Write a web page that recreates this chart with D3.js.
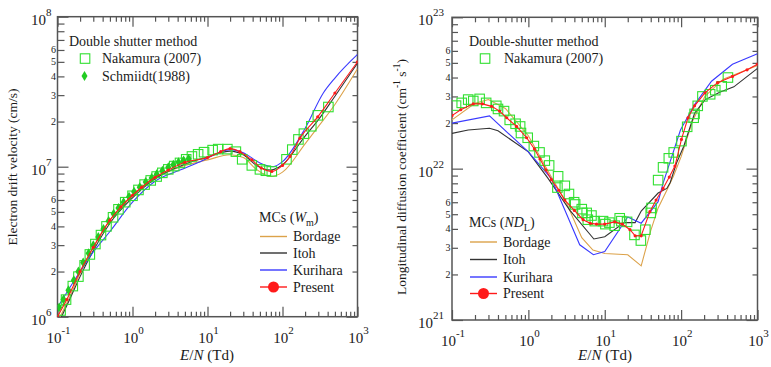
<!DOCTYPE html>
<html><head><meta charset="utf-8">
<script src="https://cdn.jsdelivr.net/npm/d3@7"></script>
<style>body{margin:0;background:#fff}</style>
</head><body>
<svg id="chart" width="771" height="367"></svg>
<script>
// ---------- tick values ----------
const xMajor = [0.1, 1, 10, 100, 1000];
const xMajorExp = ["-1", "0", "1", "2", "3"];
const leftYMajor = [1e6, 1e7, 1e8];
const leftYMajorExp = ["6", "7", "8"];
const rightYMajor = [1e21, 1e22, 1e23];
const rightYMajorExp = ["21", "22", "23"];
const minorMultipliers = [2, 3, 4, 5, 6, 7, 8, 9];
const minorLabelled = [2, 3, 4, 5, 6];

// ---------- left panel: electron drift velocity (cm/s) ----------
const driftBordage = [[0.1,0.92e6],[0.15,1.4e6],[0.2,1.95e6],[0.3,2.9e6],[0.5,4.4e6],[1,6.4e6],[2,8.4e6],[5,1.02e7],[10,1.11e7],[20,1.2e7],[30,1.15e7],[45,9.6e6],[70,8.6e6],[100,9.2e6],[200,1.42e7],[300,1.85e7],[500,2.6e7],[1000,4.5e7]];
const driftItoh = [[0.1,0.88e6],[0.15,1.35e6],[0.2,1.85e6],[0.3,2.75e6],[0.5,4.2e6],[1,6.2e6],[2,8.3e6],[5,1.04e7],[10,1.16e7],[20,1.27e7],[30,1.2e7],[45,1.02e7],[70,9.5e6],[100,1.03e7],[200,1.6e7],[300,2.05e7],[500,2.95e7],[1000,4.9e7]];
const driftKurihara = [[0.1,1.15e6],[0.2,2.0e6],[0.3,2.7e6],[0.5,3.7e6],[1,5.8e6],[2,8.0e6],[4.3,9.5e6],[8,1.08e7],[20,1.3e7],[30,1.24e7],[50,1.06e7],[75,1.0e7],[100,1.08e7],[200,1.8e7],[350,3.1e7],[500,3.9e7],[1000,5.6e7]];
const driftPresent = [[0.1,1.0e6],[0.133,1.3e6],[0.2,2.0e6],[0.3,2.9e6],[0.5,4.4e6],[0.7,5.4e6],[1,6.45e6],[1.33,7.3e6],[2,8.5e6],[3,9.5e6],[5,1.07e7],[10,1.15e7],[15,1.26e7],[20,1.32e7],[27,1.26e7],[39,1.11e7],[52,9.8e6],[72,9.3e6],[100,1.02e7],[126,1.17e7],[171,1.55e7],[295,2.15e7],[500,3.1e7],[1000,5.0e7]];
const driftNakamura = [[0.11,1.1e6],[0.13,1.3e6],[0.16,1.6e6],[0.19,1.85e6],[0.23,2.2e6],[0.27,2.6e6],[0.32,3.05e6],[0.38,3.5e6],[0.45,4.0e6],[0.55,4.6e6],[0.65,5.2e6],[0.8,5.8e6],[1.0,6.4e6],[1.2,7.0e6],[1.45,7.6e6],[1.75,8.1e6],[2.1,8.6e6],[2.5,9.1e6],[3.0,9.6e6],[3.6,1.01e7],[4.3,1.06e7],[5.2,1.12e7],[6.2,1.17e7],[7.5,1.21e7],[9,1.25e7],[11.7,1.29e7],[13.9,1.31e7],[18.4,1.31e7],[23.9,1.26e7],[29,1.12e7],[39,1.02e7],[50,9.6e6],[60,9.4e6],[72,9.3e6],[113,1.12e7],[135,1.3e7],[163,1.52e7],[193,1.66e7],[242,1.86e7],[296,2.2e7],[409,2.5e7]];
const driftSchmidt = [[0.105,1.15e6],[0.12,1.3e6],[0.14,1.5e6],[0.165,1.75e6],[0.19,2.0e6],[0.22,2.3e6],[0.26,2.65e6],[0.3,3.0e6],[0.35,3.4e6],[0.41,3.85e6],[0.48,4.35e6],[0.56,4.85e6],[0.65,5.3e6],[0.76,5.8e6],[0.9,6.3e6],[1.05,6.8e6],[1.25,7.3e6],[1.5,7.9e6],[1.8,8.4e6],[2.1,8.9e6],[2.5,9.4e6],[3.0,9.9e6],[3.5,1.03e7],[4.1,1.07e7],[4.8,1.1e7],[5.6,1.13e7]];

// ---------- right panel: longitudinal diffusion coefficient ----------
const diffBordage = [[0.1,2.1e22],[0.2,2.7e22],[0.3,2.86e22],[0.5,2.5e22],[1,1.65e22],[2,8.8e21],[3.17,5.9e21],[5,3.5e21],[7,2.9e21],[10,2.75e21],[20,2.7e21],[30,2.28e21],[40,3.9e21],[50,5.5e21],[65,7.2e21],[80,9.0e21],[100,1.2e22],[143,2.1e22],[205,3.0e22],[355,3.9e22],[1000,4.8e22]];
const diffItoh = [[0.1,1.71e22],[0.163,1.8e22],[0.31,1.85e22],[0.4,1.78e22],[1.0,1.29e22],[1.8,8.65e21],[3.5,5.3e21],[7.2,3.43e21],[10,3.55e21],[18,4.4e21],[25,4.4e21],[30,5.25e21],[50,6.9e21],[65,7.4e21],[72,8.1e21],[87,1.09e22],[108,1.4e22],[150,2.32e22],[205,2.85e22],[320,3.2e22],[490,3.47e22],[1000,4.6e22]];
const diffKurihara = [[0.1,2.0e22],[0.31,2.23e22],[1.0,1.29e22],[2.0,8.6e21],[4.7,3.14e21],[7.1,2.7e21],[10,2.83e21],[20,4.8e21],[30,4.36e21],[50,6.05e21],[58,8.0e21],[98,1.8e22],[150,2.65e22],[250,3.78e22],[470,4.89e22],[1000,5.75e22]];
const diffPresent = [[0.1,2.24e22],[0.13,2.45e22],[0.19,2.68e22],[0.25,2.68e22],[0.33,2.58e22],[0.42,2.4e22],[0.52,2.17e22],[0.7,1.9e22],[0.95,1.6e22],[1.2,1.35e22],[1.42,1.16e22],[1.7,9.8e21],[2.0,8.45e21],[2.5,7.2e21],[3.0,6.2e21],[4,5.3e21],[5.2,4.6e21],[6.5,4.35e21],[7.8,4.3e21],[10,4.3e21],[13.5,4.45e21],[17,4.3e21],[21.4,3.95e21],[25,3.6e21],[30,3.6e21],[39,5.2e21],[47,6.2e21],[58,7.4e21],[70,8.8e21],[83,1.04e22],[101,1.56e22],[123,2.17e22],[150,2.6e22],[205,3.17e22],[300,3.7e22],[470,4.07e22],[730,4.5e22],[1000,4.9e22]];
const diffNakamura = [[0.113,2.61e22],[0.134,2.72e22],[0.163,2.86e22],[0.19,2.8e22],[0.23,2.89e22],[0.28,2.72e22],[0.38,2.6e22],[0.4,2.48e22],[0.48,2.4e22],[0.57,2.1e22],[0.68,1.98e22],[0.78,1.9e22],[0.8,1.72e22],[0.98,1.6e22],[1.18,1.41e22],[1.4,1.28e22],[1.64,1.13e22],[1.87,1.05e22],[2.45,8.9e21],[2.4,7.5e21],[3.0,7.7e21],[3.4,6.8e21],[3.97,6.0e21],[4.1,5.8e21],[5,5.4e21],[5.1,5.1e21],[5.8,5.1e21],[6.0,4.6e21],[6.7,4.9e21],[7.4,4.5e21],[9.5,4.5e21],[10.2,4.3e21],[11.5,4.4e21],[13.5,4.2e21],[15.7,4.7e21],[16.5,4.5e21],[19.6,4.45e21],[24.5,3.65e21],[29.7,3.35e21],[34,3.95e21],[40,5.1e21],[41,5.5e21],[50,8.4e21],[58,1.02e22],[69,1.17e22],[80,1.28e22],[101,1.52e22],[120,1.89e22],[146,2.17e22],[150,2.3e22],[165,2.6e22],[190,3.0e22],[240,3.1e22],[280,3.3e22],[340,3.5e22],[410,4.0e22]];

// ---------- styles ----------
const cBordage = "#dca24a", cItoh = "#333333", cKurihara = "#3a3aff", cPresent = "#ff1a1a", cGreen = "#30e030", cGreenFill = "#22cc22";
const SERIF = "'Liberation Serif'";

const svg = d3.select("#chart");

function txt(parent, x, y, size) {
  return parent.append("text").attr("x", x).attr("y", y).attr("font-size", size)
    .style("font-family", SERIF).attr("fill", "#1a1a1a");
}

function panel(cfg) {
  const x = d3.scaleLog().domain([0.1, 1000]).range([cfg.x0, cfg.x1]);
  const y = d3.scaleLog().domain(cfg.yDomain).range([cfg.y1, cfg.y0]);
  const g = svg.append("g");
  const frameColor = "#555";

  const xMinor = [];
  xMajor.slice(0, -1).forEach(d => minorMultipliers.forEach(m => xMinor.push(d * m)));
  const yMinor = [];
  cfg.yMajor.slice(0, -1).forEach(d => minorMultipliers.forEach(m => yMinor.push(d * m)));

  [[d3.axisBottom, cfg.y1], [d3.axisTop, cfg.y0]].forEach(([ax, yy]) => {
    g.append("g").attr("transform", `translate(0,${yy})`)
      .call(ax(x).tickValues(xMajor).tickSize(-10).tickFormat("").tickSizeOuter(0))
      .call(a => a.select(".domain").remove());
    g.append("g").attr("transform", `translate(0,${yy})`)
      .call(ax(x).tickValues(xMinor).tickSize(-5).tickFormat("").tickSizeOuter(0))
      .call(a => a.select(".domain").remove());
  });
  [[d3.axisLeft, cfg.x0, cfg.minorLeft], [d3.axisRight, cfg.x1, 5]].forEach(([ax, xx, ml]) => {
    g.append("g").attr("transform", `translate(${xx},0)`)
      .call(ax(y).tickValues(cfg.yMajor).tickSize(-11).tickFormat("").tickSizeOuter(0))
      .call(a => a.select(".domain").remove());
    g.append("g").attr("transform", `translate(${xx},0)`)
      .call(ax(y).tickValues(yMinor).tickSize(-ml).tickFormat("").tickSizeOuter(0))
      .call(a => a.select(".domain").remove());
  });
  g.selectAll(".tick line").attr("stroke", frameColor).attr("stroke-width", 1.2);

  g.append("rect").attr("x", cfg.x0).attr("y", cfg.y0)
    .attr("width", cfg.x1 - cfg.x0).attr("height", cfg.y1 - cfg.y0)
    .attr("fill", "none").attr("stroke", frameColor).attr("stroke-width", 1.5);

  xMajor.forEach((v, i) => {
    const t = txt(g, x(v) + 1, cfg.y1 + 26, 15).attr("text-anchor", "middle");
    t.append("tspan").text("10");
    t.append("tspan").attr("dy", -9).attr("font-size", 11).text(xMajorExp[i]);
  });
  cfg.yMajor.forEach((v, i) => {
    const t = txt(g, cfg.x0 - cfg.labelGap, y(v) + 8, 15).attr("text-anchor", "end");
    t.append("tspan").text("10");
    t.append("tspan").attr("dy", -9).attr("font-size", 11).text(cfg.yMajorExp[i]);
  });
  minorLabelled.forEach(m => {
    [cfg.yMajor[0] * m, cfg.yMajor[1] * m].forEach(val => {
      txt(g, cfg.x0 - 1.5, y(val) + 3.5, 10).attr("text-anchor", "end").text(m);
    });
  });

  const xt = txt(g, cfg.xTitleX, 360, 15).attr("text-anchor", "middle");
  xt.append("tspan").attr("font-style", "italic").text("E");
  xt.append("tspan").text("/");
  xt.append("tspan").attr("font-style", "italic").text("N");
  xt.append("tspan").text(" (Td)");

  return {x, y, g};
}

function drawLine(p, data, color, curve, width) {
  const line = d3.line().x(d => p.x(d[0])).y(d => p.y(d[1])).curve(curve);
  p.g.append("path").datum(data).attr("d", line)
    .attr("fill", "none").attr("stroke", color).attr("stroke-width", width || 1.1);
}
function drawDots(p, data, color, r) {
  p.g.selectAll(null).data(data).enter().append("circle")
    .attr("cx", d => p.x(d[0])).attr("cy", d => p.y(d[1])).attr("r", r).attr("fill", color);
}
function drawSquares(p, data) {
  const s = 9.5;
  p.g.selectAll(null).data(data).enter().append("rect")
    .attr("x", d => p.x(d[0]) - s / 2).attr("y", d => p.y(d[1]) - s / 2)
    .attr("width", s).attr("height", s)
    .attr("fill", "none").attr("stroke", cGreen).attr("stroke-width", 1.1);
}
const diamond = (cx, cy) => `M${cx},${cy - 5}L${cx + 3},${cy}L${cx},${cy + 5}L${cx - 3},${cy}Z`;
function drawDiamonds(p, data) {
  p.g.selectAll(null).data(data).enter().append("path")
    .attr("d", d => diamond(p.x(d[0]), p.y(d[1]))).attr("fill", cGreenFill);
}

// ===== Left panel =====
const L = panel({x0: 57.5, x1: 357.5, y0: 16.7, y1: 316.7, yDomain: [1e6, 1e8],
  yMajor: leftYMajor, yMajorExp: leftYMajorExp, minorLeft: 7, labelGap: 6, xTitleX: 207});
svg.append("clipPath").attr("id", "clipL").append("rect")
  .attr("x", 57.5).attr("y", 16.7).attr("width", 300).attr("height", 300);
const Lg = {x: L.x, y: L.y, g: svg.append("g").attr("clip-path", "url(#clipL)")};
drawLine(Lg, driftBordage, cBordage, d3.curveMonotoneX);
drawLine(Lg, driftItoh, cItoh, d3.curveMonotoneX);
drawLine(Lg, driftKurihara, cKurihara, d3.curveMonotoneX);
drawSquares(Lg, driftNakamura);
drawDiamonds(Lg, driftSchmidt);
drawLine(Lg, driftPresent, cPresent, d3.curveMonotoneX);
drawDots(Lg, driftPresent, cPresent, 1.6);

txt(svg, 0, 0, 13.5).attr("transform", "translate(17,167) rotate(-90)")
  .attr("text-anchor", "middle").text("Electron drift velocity (cm/s)");

txt(svg, 69, 46, 14).text("Double shutter method");
svg.append("rect").attr("x", 80.3).attr("y", 53.8).attr("width", 9.5).attr("height", 9.5)
  .attr("fill", "none").attr("stroke", cGreen).attr("stroke-width", 1.1);
txt(svg, 102, 63, 14).text("Nakamura (2007)");
svg.append("path").attr("d", diamond(84.5, 76)).attr("fill", cGreenFill);
txt(svg, 102, 80.5, 14).text("Schmiidt(1988)");

function mcLegend(x0, yTitle, rows, titleParts) {
  const t = txt(svg, x0, yTitle, 14);
  t.append("tspan").text("MCs (");
  t.append("tspan").attr("font-style", "italic").text(titleParts[0]);
  t.append("tspan").attr("dy", 4).attr("font-size", 10).text(titleParts[1]);
  t.append("tspan").attr("dy", -4).text(")");
  rows.forEach(([name, color, yy, dot]) => {
    svg.append("line").attr("x1", x0 + 1).attr("x2", x0 + 28).attr("y1", yy).attr("y2", yy)
      .attr("stroke", color).attr("stroke-width", 1.4);
    if (dot) svg.append("circle").attr("cx", x0 + 14.5).attr("cy", yy).attr("r", 5.5).attr("fill", color);
    txt(svg, x0 + 34, yy + 4.5, 14).text(name);
  });
}
mcLegend(259, 222, [["Bordage", cBordage, 236.5], ["Itoh", cItoh, 253], ["Kurihara", cKurihara, 270], ["Present", cPresent, 287, true]], ["W", "m"]);

// ===== Right panel =====
const R = panel({x0: 452, x1: 757.5, y0: 17.3, y1: 320, yDomain: [1e21, 1e23],
  yMajor: rightYMajor, yMajorExp: rightYMajorExp, minorLeft: 6, labelGap: 8, xTitleX: 605});
svg.append("clipPath").attr("id", "clipR").append("rect")
  .attr("x", 452).attr("y", 17.3).attr("width", 305.5).attr("height", 302.7);
const Rg = {x: R.x, y: R.y, g: svg.append("g").attr("clip-path", "url(#clipR)")};
drawLine(Rg, diffBordage, cBordage, d3.curveLinear);
drawLine(Rg, diffItoh, cItoh, d3.curveLinear);
drawLine(Rg, diffKurihara, cKurihara, d3.curveLinear);
drawSquares(Rg, diffNakamura);
drawLine(Rg, diffPresent, cPresent, d3.curveLinear);
drawDots(Rg, diffPresent, cPresent, 1.6);

const ryt = txt(svg, 0, 0, 13.5).attr("transform", "translate(406,177) rotate(-90)")
  .attr("text-anchor", "middle");
ryt.append("tspan").text("Longitudinal diffusion coefficient (cm");
ryt.append("tspan").attr("dy", -6).attr("font-size", 9.5).text("-1");
ryt.append("tspan").attr("dy", 6).text(" s");
ryt.append("tspan").attr("dy", -6).attr("font-size", 9.5).text("-1");
ryt.append("tspan").attr("dy", 6).text(")");

txt(svg, 469, 46, 14).text("Double-shutter method");
svg.append("rect").attr("x", 480.3).attr("y", 53.8).attr("width", 9.5).attr("height", 9.5)
  .attr("fill", "none").attr("stroke", cGreen).attr("stroke-width", 1.1);
txt(svg, 504, 63, 14).text("Nakamura (2007)");

mcLegend(469, 227, [["Bordage", cBordage, 242], ["Itoh", cItoh, 259.5], ["Kurihara", cKurihara, 277], ["Present", cPresent, 293.5, true]], ["ND", "L"]);
</script>
</body></html>
